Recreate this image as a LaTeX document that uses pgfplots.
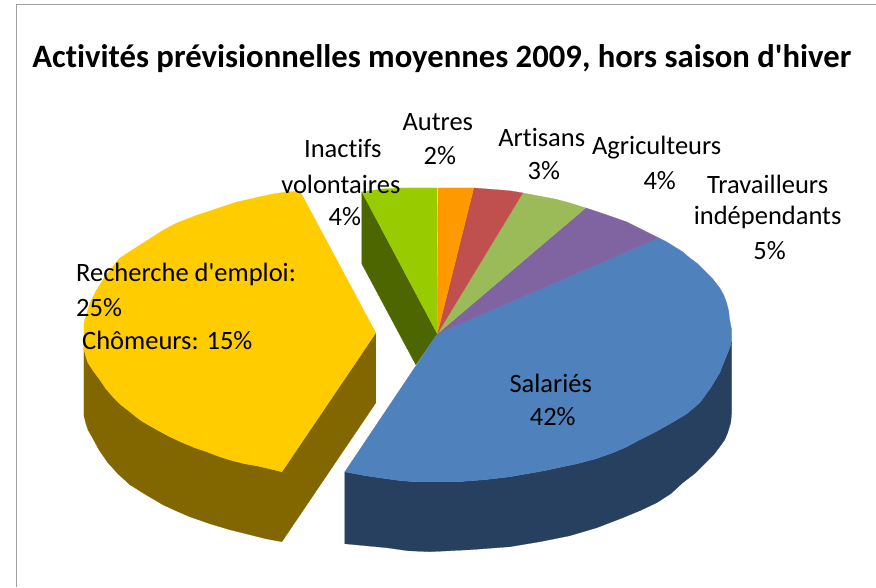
\documentclass[border=0pt]{standalone}
\usepackage{fontspec}
\setmainfont[Ligatures={TeXOff,NoCommon}]{Carlito}
\usepackage{pgfplots}
\pgfplotsset{compat=1.18}
\definecolor{cBlue}{HTML}{4F81BD}
\definecolor{cBlueD}{HTML}{27405F}
\definecolor{cPurple}{HTML}{8064A2}
\definecolor{cGreen}{HTML}{9BBB59}
\definecolor{cRed}{HTML}{C0504D}
\definecolor{cOrange}{HTML}{FF9900}
\definecolor{cLime}{HTML}{99CC00}
\definecolor{cLimeD}{HTML}{4D6600}
\definecolor{cYellow}{HTML}{FFCC00}
\definecolor{cYellowD}{HTML}{826600}
\definecolor{cFrame}{HTML}{A0A0A0}
\tikzset{lab/.style={font=\fontsize{26.5}{31}\selectfont,text=black,inner sep=0pt}}
\begin{document}
\begin{tikzpicture}
\begin{axis}[
    scale only axis,
    width=876pt,
    height=587pt,
    xmin=0, xmax=876,
    ymin=0, ymax=587,
    y dir=reverse,
    hide axis,
    no markers,
    clip=false,
]
% hide axis drops the rectangle from the bounding box
\path (axis cs:0,0) rectangle (axis cs:876,587);
% frame
\addplot[cFrame,line width=0.8pt] coordinates {(16.5,587) (16.5,4.5) (876,4.5)};

% yellow slice, sides first
\addplot[fill=cYellowD,draw=cYellowD,line width=0.2pt] coordinates {
 (84,343) (84,416) (86,424) (88,430) (92,437) (99,450) (108,463) (118,474) (130,485) (146,495) (163,505)
 (176,511) (190,517) (210,524) (230,530) (250,535) (266,539) (282,542)
 (376,403) (376,333) (282,472) (270,469) (257,466) (245,464) (233,461) (220,457) (207,452) (195,448)
 (183,443) (170,437) (157,430) (150,426) (143,422) (136,417) (130,412) (121,405) (113,397) (106,389)
 (100,380) (94,372) (88,363) (86,357) (84,350) (84,343)};
\addplot[fill=cYellow,draw=cYellow,line width=0.2pt] coordinates {
 (376,333) (300,191) (287,192) (273,194) (255,198) (237,202) (225,206) (213,210) (195,216) (177,223)
 (162,231) (148,240) (134,249) (120,258) (111,269) (103,280) (96,291) (90,303) (87,313) (84,323)
 (84,350) (86,357) (88,363) (94,372) (100,380) (106,389) (113,397) (121,405) (130,412) (136,417)
 (143,422) (150,426) (157,430) (170,437) (183,443) (195,448) (207,452) (220,457) (233,461) (245,464)
 (257,466) (270,469) (282,472) (376,333)};

% inactifs
\addplot[fill=cLimeD,draw=cLimeD,line width=0.2pt] coordinates {
 (362,192) (362,264) (416,365) (437.5,334) (362,192)};
\addplot[fill=cLime,draw=cLime,line width=0.2pt] coordinates {
 (437.5,334) (362,192) (383,189) (403,188) (437,188) (437.5,334)};

% blue slice
\addplot[fill=cBlueD,draw=cBlueD,line width=0.2pt] coordinates {
 (345,472) (345,544) (366,546) (387,548) (408,551) (430,552) (470,550) (510,547) (540,542) (570,536)
 (597,528) (623,518) (640,511) (657,503) (671,494) (683,483) (696,473) (707,462) (714,455) (720,447)
 (725,440) (728,433) (731,423) (732,413) (732,342) (730,348) (728,353) (724,363) (720,373) (711,388)
 (700,403) (687,414) (672,423) (656,432) (640,440) (627,447) (613,453) (596,459) (577,464) (544,471)
 (510,477) (484,480) (457,482) (417,482) (402,481) (387,479) (366,476) (345,472)};
\addplot[fill=cBlue,draw=cBlue,line width=0.2pt] coordinates {
 (437.5,334) (659,238) (667,242) (675,247) (683,252) (690,258) (698,264) (705,271) (713,279) (720,288)
 (724,295) (727,303) (729,311) (730,320) (732,330) (732,342) (730,348) (728,353) (724,363) (720,373)
 (711,388) (700,403) (687,414) (672,423) (656,432) (640,440) (627,447) (613,453) (596,459) (577,464)
 (544,471) (510,477) (484,480) (457,482) (417,482) (402,481) (387,479) (366,476) (345,472) (437.5,334)};

% small slices
\addplot[fill=cPurple,draw=cPurple,line width=0.2pt] coordinates {
 (437.5,334) (586,208) (607,215) (627,222) (643,230) (659,238) (437.5,334)};
\addplot[fill=cGreen,draw=cGreen,line width=0.2pt] coordinates {
 (437.5,334) (523,193) (539,196) (555,199) (570,203) (586,208) (437.5,334)};
\addplot[fill=cRed,draw=cRed,line width=0.2pt] coordinates {
 (437.5,334) (474,188) (487,189) (500,190) (511,191) (523,193) (437.5,334)};
\addplot[fill=cOrange,draw=cOrange,line width=0.2pt] coordinates {
 (437.5,334) (438,188) (474,188) (437.5,334)};

% title and labels
\node[font=\fontsize{32.7}{36}\selectfont\bfseries,inner sep=0pt] at (axis cs:442,58.5)
  {Activités prévisionnelles moyennes 2009, hors saison d'hiver};
\node[lab] at (axis cs:438,122) {Autres};
\node[lab] at (axis cs:440,156) {2\%};
\node[lab] at (axis cs:542,138) {Artisans};
\node[lab] at (axis cs:544,171) {3\%};
\node[lab] at (axis cs:657,148) {Agriculteurs};
\node[lab] at (axis cs:660,181) {4\%};
\node[lab] at (axis cs:768,184) {Travailleurs};
\node[lab] at (axis cs:768,218) {indépendants};
\node[lab] at (axis cs:770,251) {5\%};
\node[lab] at (axis cs:343,149) {Inactifs};
\node[lab] at (axis cs:341,184) {volontaires};
\node[lab] at (axis cs:345,217) {4\%};
\node[lab,anchor=west] at (axis cs:76,275) {Recherche d'emploi:};
\node[lab,anchor=west] at (axis cs:76,308) {25\%};
\node[lab,anchor=west] at (axis cs:82,341) {Chômeurs: 15\%};
\node[lab] at (axis cs:551,384) {Salariés};
\node[lab] at (axis cs:553,417) {42\%};
\end{axis}
\end{tikzpicture}
\end{document}
